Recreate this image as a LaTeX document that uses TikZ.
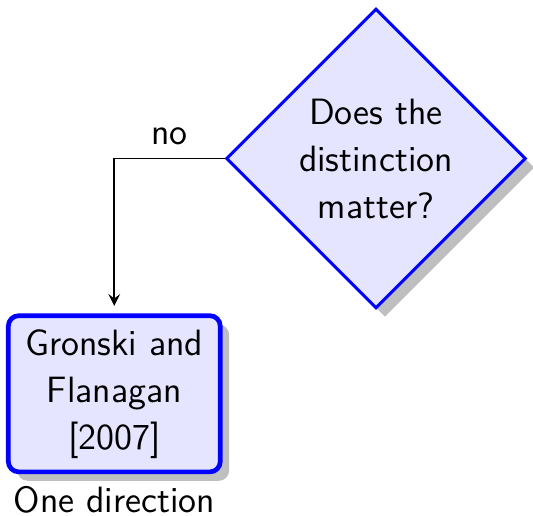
\documentclass[tikz,border=0pt]{standalone}
\usetikzlibrary{shapes.geometric,shadows,arrows}
\begin{document}
\begin{tikzpicture}[x=0.3086pt,y=-0.3086pt,
  font=\fontsize{11.3}{14.5}\selectfont\sffamily,
  shade/.style={drop shadow={shadow xshift=2.75pt,shadow yshift=-2.75pt}},
  decision/.style={diamond,draw=blue,line width=0.95pt,fill=blue!10,shade,
    aspect=1,inner sep=0pt,minimum width=92.5pt,minimum height=92.5pt,align=center},
  studybox/.style={rectangle,rounded corners=3.2pt,draw=blue,line width=1.45pt,fill=blue!10,
    shade,inner sep=0pt,minimum width=65.4pt,minimum height=48.2pt,align=center},
  flow/.style={-stealth,line width=0.6pt,black}]
\useasboundingbox (0,0) rectangle (533,516);
\node[decision] (q) at (376,158.5) {Does the\\distinction\\matter?};
\node[studybox] (gf) at (114.3,393.8) {Gronski and\\Flanagan\\{[2007]}};
\node[anchor=base,inner sep=0pt] (dir) at (114.3,513) {One direction};
\coordinate (bend) at (gf.north |- q.west);
\draw[flow,shorten >=2.3pt] (q.west) -- node[above=4pt,inner sep=0pt] (no) {no} (bend) -- (gf.north);
\end{tikzpicture}
\end{document}
